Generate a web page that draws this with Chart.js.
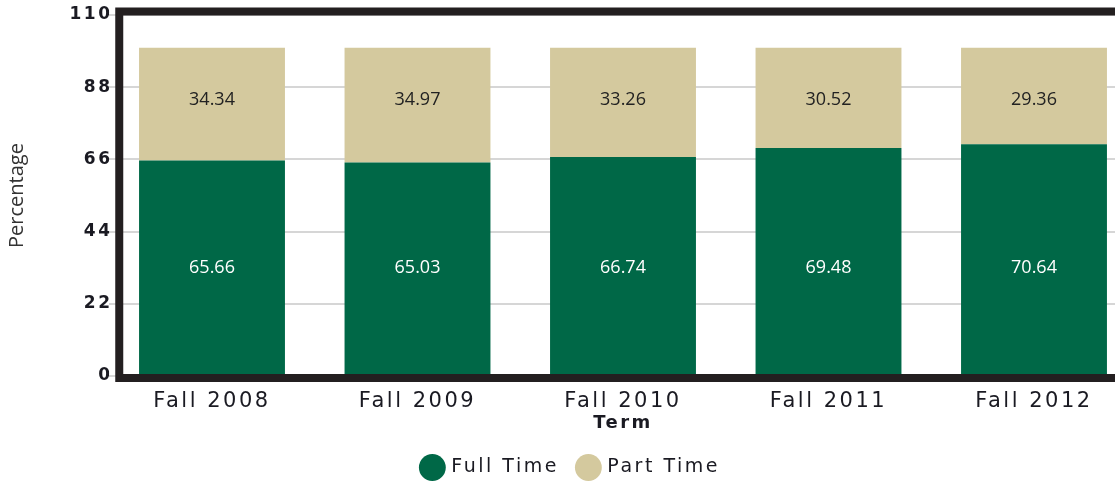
<!DOCTYPE html>
<html>
<head>
<meta charset="utf-8">
<script src="https://cdn.jsdelivr.net/npm/chart.js@4"></script>
<style>
  html, body {margin: 0; padding: 0; background: #fff; overflow: hidden;}
  canvas {display: block;}
</style>
</head>
<body>
<canvas id="chart" width="1140" height="505"></canvas>
<script>
const terms = [`Fall 2008`, `Fall 2009`, `Fall 2010`, `Fall 2011`, `Fall 2012`];
const fullTime = [65.66, 65.03, 66.74, 69.48, 70.64];
const partTime = [34.34, 34.97, 33.26, 30.52, 29.36];
const yTicks = [0, 22, 44, 66, 88, 110];

const GREEN = `#006847`;
const TAN = `#d4c99e`;
const FRAME = `#231f20`;
const TEXT = `#1a1a22`;
const SPACING = `2.5px`;

// wide letter spacing like the original tick/legend text
const spacingPlugin = {
  id: `spacing`,
  beforeUpdate(chart) {
    chart.ctx.letterSpacing = SPACING;
  },
  afterLayout(chart) {
    const yScale = chart.scales.y;
    if (yScale._plainTitle) {
      return;
    }
    const drawTitle = yScale.drawTitle;
    yScale.drawTitle = function () {
      this.ctx.save();
      this.ctx.letterSpacing = `0px`;
      drawTitle.call(this);
      this.ctx.restore();
    };
    yScale._plainTitle = true;
  },
  beforeDraw(chart) {
    chart.ctx.letterSpacing = SPACING;
  }
};

// thick dark frame on top, left and bottom
const framePlugin = {
  id: `frame`,
  afterDatasetsDraw(chart) {
    const {ctx, chartArea, width} = chart;
    const left = chartArea.left + 10;
    const top = chartArea.top - 3.5;
    const bottom = chartArea.bottom + 2;
    ctx.save();
    ctx.strokeStyle = FRAME;
    ctx.lineWidth = 8;
    ctx.lineCap = `butt`;
    ctx.beginPath();
    ctx.moveTo(width, top);
    ctx.lineTo(left, top);
    ctx.lineTo(left, bottom);
    ctx.lineTo(width, bottom);
    ctx.stroke();
    ctx.restore();
  }
};

// value labels, one row per series (like the original)
const valuesPlugin = {
  id: `values`,
  afterDatasetsDraw(chart) {
    const {ctx} = chart;
    ctx.save();
    ctx.letterSpacing = `0px`;
    ctx.font = `18px "Open Sans"`;
    ctx.textAlign = `center`;
    ctx.textBaseline = `middle`;
    chart.data.datasets.forEach((ds, i) => {
      const meta = chart.getDatasetMeta(i);
      const first = meta.data[0];
      const rowY = (first.y + first.base) / 2 - (i === 0 ? 0 : 4);
      meta.data.forEach((bar, j) => {
        ctx.fillStyle = i === 0 ? `#ffffff` : `#222222`;
        ctx.fillText(ds.data[j].toFixed(2), bar.x, rowY);
      });
    });
    ctx.restore();
  }
};

new Chart(document.getElementById(`chart`), {
  type: `bar`,
  data: {
    labels: terms,
    datasets: [
      {
        label: `Full Time`,
        data: fullTime,
        backgroundColor: GREEN,
        borderWidth: 0
      },
      {
        label: `Part Time`,
        data: partTime,
        backgroundColor: TAN,
        borderWidth: 0
      }
    ]
  },
  options: {
    responsive: false,
    animation: false,
    layout: {
      padding: {top: 15, left: 6, right: 3.25, bottom: 18}
    },
    datasets: {
      bar: {
        barPercentage: 0.71,
        categoryPercentage: 1
      }
    },
    scales: {
      x: {
        stacked: true,
        grid: {display: false, drawTicks: false},
        border: {display: false},
        ticks: {
          padding: 13,
          color: TEXT,
          font: {family: `"DejaVu Sans"`, size: 21}
        },
        title: {
          display: true,
          text: `Term`,
          color: TEXT,
          padding: {top: 0, bottom: 4},
          font: {family: `"DejaVu Sans"`, size: 18, weight: `bold`}
        },
        afterFit(scale) {
          scale.height = 62;
        }
      },
      y: {
        stacked: true,
        min: 0,
        max: 110,
        afterBuildTicks(scale) {
          scale.ticks = yTicks.map((v) => ({value: v}));
        },
        grid: {color: `#d6d6d6`, lineWidth: 2, drawTicks: false},
        border: {display: false},
        ticks: {
          padding: -3.25,
          color: TEXT,
          font: {family: `"DejaVu Sans"`, size: 17, weight: `bold`}
        },
        title: {
          display: true,
          text: `Percentage`,
          color: `#333333`,
          padding: {top: -1, bottom: 0},
          font: {family: `"Open Sans"`, size: 20}
        },
        afterFit(scale) {
          scale.width = 103.25;
        }
      }
    },
    plugins: {
      legend: {
        position: `bottom`,
        labels: {
          usePointStyle: true,
          pointStyle: `circle`,
          padding: 20,
          color: TEXT,
          font: {family: `"DejaVu Sans"`, size: 19}
        }
      },
      tooltip: {enabled: false}
    }
  },
  plugins: [spacingPlugin, framePlugin, valuesPlugin]
});
</script>
</body>
</html>
